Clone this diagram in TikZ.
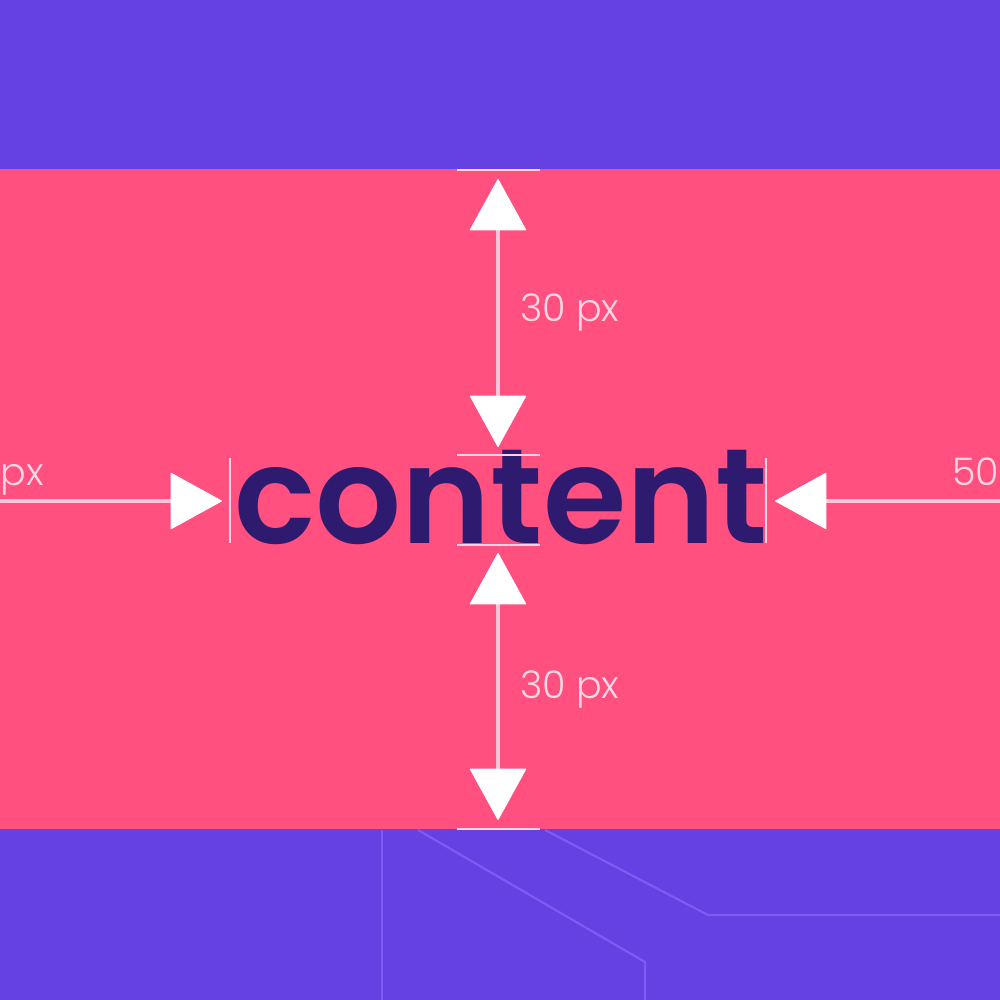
\documentclass[tikz,border=0pt]{standalone}
\usepackage{fontspec}
\setmainfont{Poppins}
\newfontfamily\popsemi{Poppins}[UprightFont={* SemiBold}]
\newfontfamily\poplight{Poppins}[UprightFont={* Light}]
\usetikzlibrary{arrows.meta}
\definecolor{bgpurple}{HTML}{6540E2}
\definecolor{bandpink}{HTML}{FF5080}
\definecolor{textdark}{HTML}{2E1A6E}
\definecolor{tickpink}{HTML}{FFD2E8}
\definecolor{shaftpink}{HTML}{FFC4DA}
\definecolor{labelpink}{HTML}{FFD8E4}
\definecolor{linepurple}{HTML}{7C5CF4}
\tikzset{
  tri/.tip={Triangle[length=52pt,width=57pt,round,color=white,fill=white,line width=1pt]},
  shaft/.style={draw=shaftpink,line width=3.4pt},
  tickline/.style={draw=tickpink,line width=2.2pt},
  dimlabel/.style={text=labelpink,font=\poplight\fontsize{38}{38}\selectfont,inner sep=0pt},
  deco/.style={draw=linepurple,line width=2.2pt}
}
\begin{document}
\begin{tikzpicture}[x=1pt,y=-1pt]
\fill[bgpurple] (0,0) rectangle (1000,1000);
\useasboundingbox (0,0) rectangle (1000,1000);
\fill[bandpink] (0,169) rectangle (1000,829);
% decorative lines
\draw[deco] (382,830) -- (382,1000);
\draw[deco] (418,830) -- (645,962) -- (645,1000);
\draw[deco] (545,830) -- (708,915) -- (1000,915);
% text
\node[anchor=base west,inner sep=0pt,text=textdark,font=\popsemi\fontsize{135}{135}\selectfont] (content) at (234,543) {content};
% tick marks
\coordinate (ttl) at (457,170); \coordinate (ttr) at (540,170);
\coordinate (mtl) at (457,455); \coordinate (mtr) at (540,455);
\coordinate (mbl) at (457,545); \coordinate (mbr) at (540,545);
\coordinate (btl) at (457,829); \coordinate (btr) at (540,829);
\coordinate (lt) at (230,458); \coordinate (lb) at (230,543);
\coordinate (rt) at (766,458); \coordinate (rb) at (766,543);
\draw[tickline] (ttl) -- (ttr);
\draw[tickline] (mtl) -- (mtr);
\draw[tickline] (mbl) -- (mbr);
\draw[tickline] (btl) -- (btr);
\draw[tickline] (lt) -- (lb);
\draw[tickline] (rt) -- (rb);
% arrows
\coordinate (a1) at (498,179); \coordinate (a2) at (498,447);
\coordinate (b1) at (498,553); \coordinate (b2) at (498,820);
\coordinate (l0) at (0,501); \coordinate (l1) at (222,501);
\coordinate (r0) at (1000,501); \coordinate (r1) at (775,501);
\draw[shaft,tri-tri] (a1) -- (a2);
\draw[shaft,tri-tri] (b1) -- (b2);
\draw[shaft,-tri] (l0) -- (l1);
\draw[shaft,-tri] (r0) -- (r1);
% labels
\node[dimlabel,anchor=base west] (lab1) at (520,321) {30 px};
\node[dimlabel,anchor=base west] (lab2) at (520,698) {30 px};
\node[dimlabel,anchor=base east] (lab3) at (44,485) {50 px};
\node[dimlabel,anchor=base west] (lab4) at (952,485) {50 px};
\end{tikzpicture}
\end{document}
